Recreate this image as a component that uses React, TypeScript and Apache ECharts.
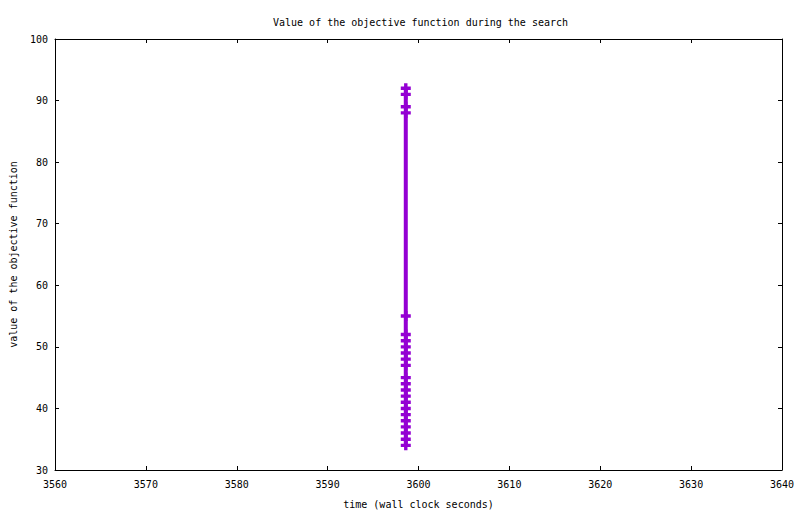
import React, { useEffect, useRef } from "react";
import * as echarts from "echarts";

const TITLE = "Value of the objective function during the search";
const X_NAME = "time (wall clock seconds)";
const Y_NAME = "value of the objective function";

// wall clock time of each evaluation (seconds)
const times = [
  3598.6, 3598.6, 3598.6, 3598.6, 3598.6, 3598.6, 3598.6, 3598.6, 3598.6, 3598.6,
  3598.6, 3598.6, 3598.6, 3598.6, 3598.6, 3598.6, 3598.6, 3598.6, 3598.6, 3598.6,
  3598.6, 3598.6, 3598.6,
];
// objective function values
const objective = [
  92, 91, 89, 88, 55, 52, 51, 50, 49, 48, 47, 45, 44, 43, 42, 41, 40, 39, 38, 37, 36, 35, 34,
];

const X_MIN = 3560;
const X_MAX = 3640;
const X_STEP = 10;
const Y_MIN = 30;
const Y_MAX = 100;
const Y_STEP = 10;

const FONT = "DejaVu Sans Mono";
const COLOR = "#9400D3";

export default function App() {
  const ref = useRef<HTMLDivElement>(null);
  useEffect(() => {
    document.body.style.margin = "0";
    if (!ref.current) return;
    const chart = echarts.init(ref.current, null, { renderer: "svg" });
    const axisCommon = {
      type: "value" as const,
      axisLine: { show: true, onZero: false, lineStyle: { color: "#000", width: 1 } },
      axisTick: { show: true, inside: true, length: 4, lineStyle: { color: "#000", width: 1 } },
      splitLine: { show: false },
    };
    const data = times.map((t, i) => [t, objective[i]]);
    chart.setOption({
      animation: false,
      backgroundColor: "#fff",
      title: {
        text: TITLE,
        left: 268,
        top: 12,
        textStyle: { fontFamily: FONT, fontSize: 10, fontWeight: "normal", color: "#000" },
      },
      grid: { left: 52, right: 18, top: 39, bottom: 42, containLabel: false },
      xAxis: [
        {
          ...axisCommon,
          position: "bottom",
          min: X_MIN,
          max: X_MAX,
          interval: X_STEP,
          name: X_NAME,
          nameLocation: "middle",
          nameGap: 29,
          nameTextStyle: { fontFamily: FONT, fontSize: 10, color: "#000" },
          axisLabel: {
            fontFamily: FONT,
            fontSize: 10,
            color: "#000",
            margin: 9,
            formatter: (v: number) => String(v),
          },
        },
        {
          ...axisCommon,
          position: "top",
          min: X_MIN,
          max: X_MAX,
          interval: X_STEP,
          axisLabel: { show: false },
        },
      ],
      yAxis: [
        {
          ...axisCommon,
          position: "left",
          min: Y_MIN,
          max: Y_MAX,
          interval: Y_STEP,
          name: Y_NAME,
          nameLocation: "middle",
          nameGap: 37,
          nameTextStyle: { fontFamily: FONT, fontSize: 10, color: "#000" },
          axisLabel: {
            fontFamily: FONT,
            fontSize: 10,
            color: "#000",
            margin: 7,
            formatter: (v: number) => String(v),
          },
        },
        {
          ...axisCommon,
          position: "right",
          min: Y_MIN,
          max: Y_MAX,
          interval: Y_STEP,
          axisLabel: { show: false },
        },
      ],
      series: [
        {
          type: "line",
          data,
          xAxisIndex: 0,
          yAxisIndex: 0,
          symbol: "path://M3.3,0H6.7V3.3H10V6.7H6.7V10H3.3V6.7H0V3.3H3.3Z",
          symbolSize: 10,
          showAllSymbol: true,
          lineStyle: { color: COLOR, width: 4 },
          itemStyle: { color: COLOR, borderWidth: 0 },
        },
      ],
    });
    return () => chart.dispose();
  }, []);
  return <div ref={ref} style={{ width: 800, height: 514 }} />;
}
